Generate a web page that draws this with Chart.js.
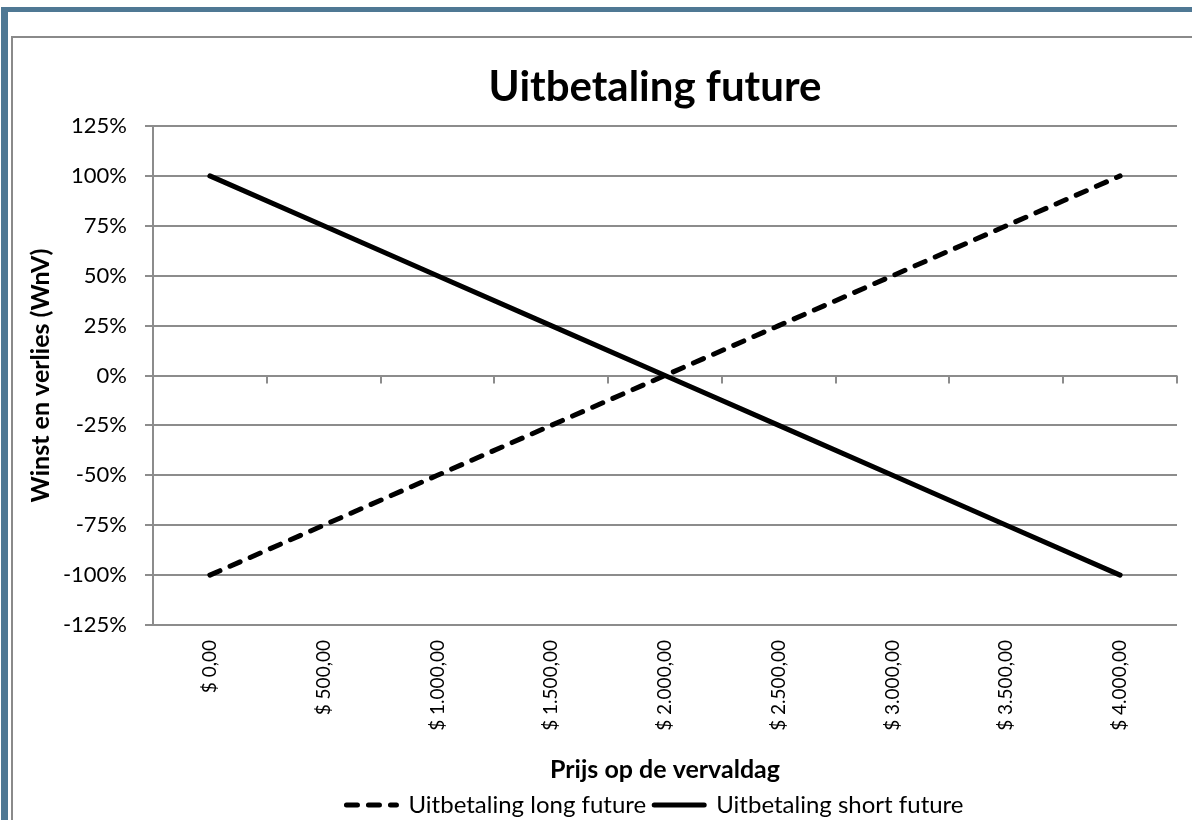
<!DOCTYPE html>
<html>
<head>
<meta charset="utf-8">
<script src="https://cdn.jsdelivr.net/npm/chart.js@4.4.1/dist/chart.umd.min.js"></script>
<style>
  html, body { margin: 0; padding: 0; background: #fff; overflow: hidden; }
  #frame-top { position: absolute; left: 1px; top: 7px; width: 1191px; height: 5px; background: #4f7894; }
  #frame-left { position: absolute; left: 1px; top: 7px; width: 7px; height: 813px; background: #4f7894; }
  #box { position: absolute; left: 11px; top: 36px; width: 1300px; height: 800px;
         border-left: 2px solid #8a8a8a; border-top: 2px solid #8a8a8a; }
  #chart { position: absolute; left: 12px; top: 37px; }
</style>
</head>
<body>
<div id="frame-top"></div>
<div id="frame-left"></div>
<div id="box"></div>
<canvas id="chart" width="1286" height="790"></canvas>
<script>
const priceLabels = ['$ 0,00', '$ 500,00', '$ 1.000,00', '$ 1.500,00', '$ 2.000,00',
                     '$ 2.500,00', '$ 3.000,00', '$ 3.500,00', '$ 4.000,00'];
const longFuture = [-100, -75, -50, -25, 0, 25, 50, 75, 100];
const shortFuture = [100, 75, 50, 25, 0, -25, -50, -75, -100];
const yMin = -125, yMax = 125, yStep = 25;

Chart.defaults.font.family = 'Lato';
Chart.defaults.color = '#000';

const gridGray = '#8c8c8c';

// small tick marks on the 0% line at the category boundaries (like Excel)
const zeroTicks = {
  id: 'zeroTicks',
  afterDatasetsDraw(chart) {
    const xs = chart.scales.x, ys = chart.scales.y;
    const y0 = ys.getPixelForValue(0);
    const ctx = chart.ctx;
    ctx.save();
    ctx.strokeStyle = gridGray;
    ctx.lineWidth = 2;
    for (let i = 0; i <= priceLabels.length; i++) {
      const x = Math.round(xs.getPixelForValue(i - 0.5));
      ctx.beginPath();
      ctx.moveTo(x, y0);
      ctx.lineTo(x, y0 + 8);
      ctx.stroke();
    }
    ctx.restore();
  }
};

new Chart(document.getElementById('chart').getContext('2d'), {
  type: 'line',
  data: {
    labels: priceLabels,
    datasets: [{
      label: 'Uitbetaling long future',
      data: longFuture,
      borderColor: '#000',
      backgroundColor: '#000',
      borderWidth: 5,
      borderDash: [11, 11],
      borderCapStyle: 'round',
      pointRadius: 0,
      tension: 0
    }, {
      label: 'Uitbetaling short future',
      data: shortFuture,
      borderColor: '#000',
      backgroundColor: '#000',
      borderWidth: 5,
      borderCapStyle: 'round',
      pointRadius: 0,
      tension: 0
    }]
  },
  options: {
    responsive: false,
    animation: false,
    layout: { padding: { left: 0, right: 0, top: 0, bottom: 0 } },
    plugins: {
      title: {
        display: true,
        text: 'Uitbetaling future',
        font: { size: 42, weight: 'bold' },
        padding: { top: 25, bottom: 13.6 }
      },
      legend: {
        position: 'bottom',
        labels: {
          usePointStyle: true,
          pointStyle: 'line',
          pointStyleWidth: 50,
          font: { size: 24 },
          padding: 8,
          generateLabels(chart) {
            const items = Chart.defaults.plugins.legend.labels.generateLabels(chart);
            items.forEach(it => {
              const ds = chart.data.datasets[it.datasetIndex];
              it.lineDash = ds.borderDash || [];
              it.lineWidth = ds.borderWidth;
              it.lineCap = 'round';
              it.strokeStyle = ds.borderColor;
            });
            return items;
          }
        }
      },
      tooltip: { enabled: false }
    },
    scales: {
      x: {
        offset: true,
        grid: { display: false, drawTicks: false },
        border: { display: false },
        ticks: { minRotation: 90, maxRotation: 90, padding: 15, font: { size: 19 } },
        title: { display: true, text: 'Prijs op de vervaldag', font: { size: 25, weight: 'bold' }, padding: 0 },
        afterFit(scale) { scale.height = 160; }
      },
      y: {
        min: yMin,
        max: yMax,
        ticks: { stepSize: yStep, padding: 18, font: { size: 22 }, callback: v => v + '%' },
        grid: { color: gridGray, lineWidth: 2, tickLength: 8 },
        border: { display: true, color: gridGray, width: 2 },
        title: { display: true, text: 'Winst en verlies (WnV)', font: { size: 25, weight: 'bold' }, padding: { top: 14, bottom: 0 } },
        afterFit(scale) { scale.width = 141; }
      },
      // empty right-hand axis: keeps the space right of the plot (chart continues past the window)
      yRight: {
        position: 'right',
        display: true,
        grid: { display: false, drawTicks: false },
        border: { display: false },
        ticks: { display: false },
        afterFit(scale) { scale.width = 121; }
      }
    }
  },
  plugins: [zeroTicks]
});
</script>
</body>
</html>
